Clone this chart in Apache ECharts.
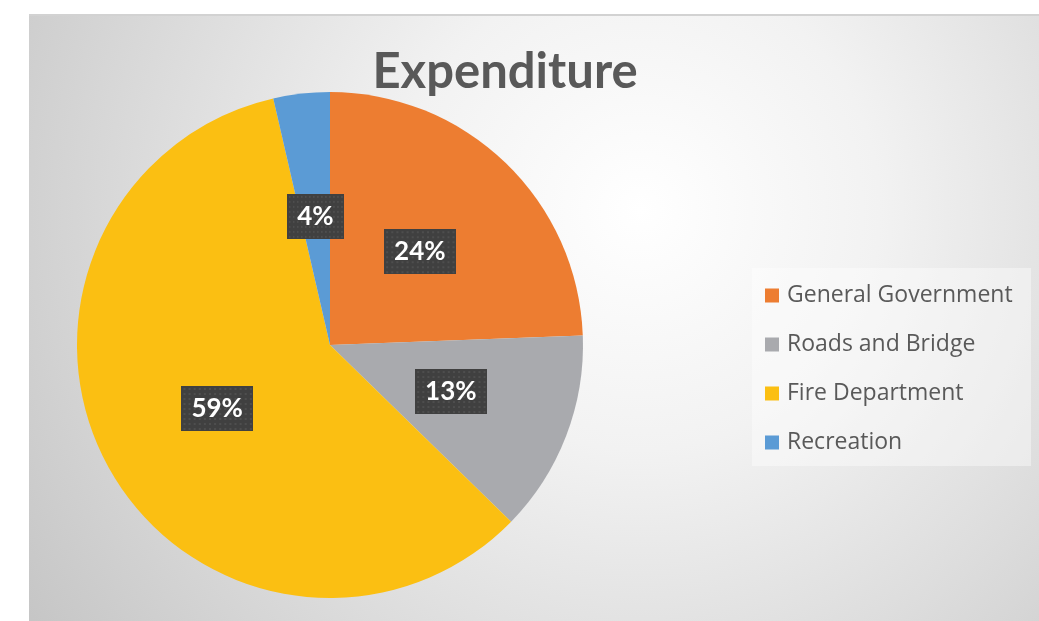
<!DOCTYPE html>
<html>
<head>
<meta charset="utf-8">
<script src="https://cdn.jsdelivr.net/npm/echarts@6/dist/echarts.min.js"></script>
<style>
html,body{margin:0;padding:0;background:#fff;}
#main{width:1039px;height:621px;}
</style>
</head>
<body>
<div id="main"></div>
<script>
const titleText = 'Expenditure';
const categories = ['General Government', 'Roads and Bridge', 'Fire Department', 'Recreation'];
const values = [24.4, 12.9, 59.1, 3.6];
const colors = ['#ED7D31', '#A9AAAE', '#FBBF12', '#5B9BD5'];

// dotted dark label background
function makePattern(w, h) {
  const c = document.createElement('canvas');
  c.width = w; c.height = h;
  const ctx = c.getContext('2d');
  ctx.fillStyle = '#404040';
  ctx.fillRect(0, 0, w, h);
  ctx.fillStyle = '#4e4e4e';
  for (let y = 2; y < h; y += 5) {
    for (let x = 2; x < w; x += 5) {
      ctx.fillRect(x, y, 2, 2);
    }
  }
  return c;
}
const pat = makePattern(70, 45);

const chart = echarts.init(document.getElementById('main'), null, {renderer: 'canvas'});
chart.setOption({
  animation: false,
  backgroundColor: '#ffffff',
  color: colors,
  graphic: [
    {type: 'rect', z: -10, shape: {x: 29, y: 15, width: 1010, height: 606},
     style: {fill: {type: 'radial', x: 640, y: 210, r: 800, global: true,
       colorStops: [{offset: 0, color: '#ffffff'}, {offset: 0.3, color: '#f2f2f2'}, {offset: 1, color: '#c0c0c0'}]}}},
    {type: 'rect', z: -9, shape: {x: 29, y: 14, width: 1010, height: 2}, style: {fill: '#d2d2d2'}},
    {type: 'rect', z: -8, shape: {x: 752, y: 268, width: 279, height: 198}, style: {fill: 'rgba(255,255,255,0.4)'}}
  ],
  title: {
    text: titleText,
    left: 500, top: 43, textAlign: 'center',
    textStyle: {fontFamily: 'Lato', fontWeight: 'bold', fontSize: 49, color: '#595959'}
  },
  legend: {
    orient: 'vertical',
    left: 760, top: 279,
    itemWidth: 14, itemHeight: 14, itemGap: 26,
    icon: 'rect',
    data: categories,
    textStyle: {fontFamily: 'Open Sans', fontSize: 23, color: '#595959', lineHeight: 22, padding: [0, 0, 0, 3]}
  },
  series: [{
    type: 'pie',
    center: [330, 345],
    radius: [0, 253],
    startAngle: 90,
    clockwise: true,
    percentPrecision: 0,
    data: categories.map((n, i) => ({name: n, value: values[i]})),
    label: {
      show: true,
      position: 'inside',
      formatter: '{d}%',
      fontFamily: 'Lato', fontWeight: 'bold', fontSize: 26, color: '#ffffff',
      lineHeight: 26,
      backgroundColor: {image: pat},
      padding: [10, 10, 9, 10],
      shadowColor: 'rgba(0,0,0,0.5)', shadowBlur: 8, shadowOffsetX: 3, shadowOffsetY: 4
    },
    labelLine: {show: false},
    itemStyle: {borderWidth: 0},
    emphasis: {disabled: true}
  }]
});
</script>
</body>
</html>
